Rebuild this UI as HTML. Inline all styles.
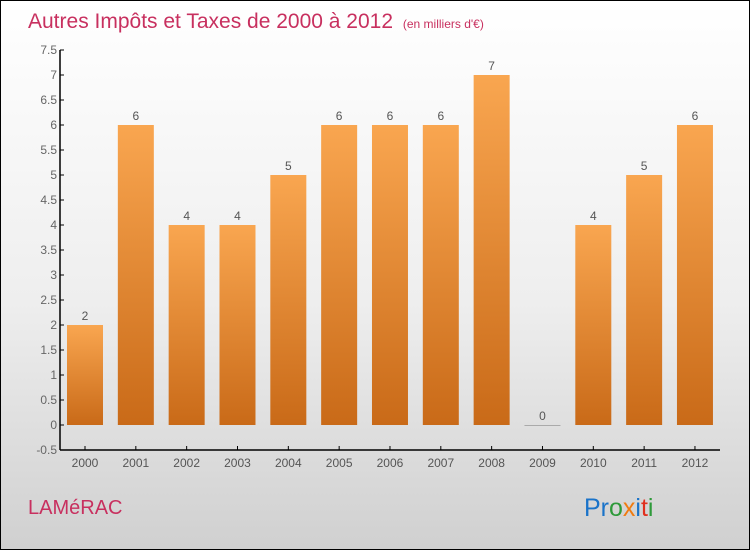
<!DOCTYPE html>
<html><head><meta charset="utf-8"><style>
body{margin:0;padding:0}
#c{width:750px;height:550px;position:relative;box-sizing:border-box;border:1px solid #000;background:linear-gradient(#ffffff 0%,#eeeeee 55%,#d0d0d0 100%);font-family:"Liberation Sans",sans-serif;overflow:hidden}
</style></head><body>
<div id="c">
<svg id="s" width="750" height="550" style="position:absolute;left:-1px;top:-1px">
<defs><linearGradient id="g" x1="0" y1="0" x2="0" y2="1"><stop offset="0" stop-color="#f9a650"/><stop offset="1" stop-color="#c96a18"/></linearGradient></defs>
<text x="28" y="28" font-size="21" fill="#c8305f">Autres Impôts et Taxes de 2000 à 2012 <tspan font-size="12" dx="4">(en milliers d'€)</tspan></text>
<text x="28" y="514" font-size="20" fill="#c8305f">LAMéRAC</text>
<text x="584" y="516" font-size="25"><tspan fill="#1a73c9">Pr</tspan><tspan fill="#2e9a3a">o</tspan><tspan fill="#f07b10">x</tspan><tspan fill="#1a73c9">i</tspan><tspan fill="#e0301e">t</tspan><tspan fill="#2e9a3a">i</tspan></text>
<g id="plot"></g>
</svg>
</div>
<script>
const categories=["2000","2001","2002","2003","2004","2005","2006","2007","2008","2009","2010","2011","2012"];
const values=[2,6,4,4,5,6,6,6,7,0,4,5,6];
const yTicks=[-0.5,0,0.5,1,1.5,2,2.5,3,3.5,4,4.5,5,5.5,6,6.5,7,7.5];
const yTickLabels=["-0.5","0","0.5","1","1.5","2","2.5","3","3.5","4","4.5","5","5.5","6","6.5","7","7.5"];
const NS="http://www.w3.org/2000/svg";
const g=document.getElementById('plot');
const y=v=>425-v*50;
const x=i=>85+i*50.83;
function el(t,a){const e=document.createElementNS(NS,t);for(const k in a)e.setAttribute(k,a[k]);g.appendChild(e);return e;}
let ax=el('line',{x1:60,y1:50,x2:60,y2:450,stroke:'#000','stroke-width':1.5});


let bx=el('line',{x1:60,y1:450,x2:720,y2:450,stroke:'#000','stroke-width':1.5});


yTicks.forEach((v,i)=>{
 const t=el('line',{x1:60,y1:y(v),x2:64,y2:y(v),stroke:'#000'});
 
 
 const l=el('text',{x:57,y:y(v)+4,'text-anchor':'end','font-size':12,fill:'#666'});
 l.textContent=yTickLabels[i];
 
 
});
categories.forEach((c,i)=>{
 const v=values[i],cx=x(i);
 const top=Math.min(y(v),y(0)),h=Math.max(Math.abs(y(v)-y(0)),1);
 const r=el('rect',{x:cx-18,y:top,width:36,height:h,fill:v===0?'#aaa':'url(#g)'});
 
 
 const vl=el('text',{x:cx,y:top-5,'text-anchor':'middle','font-size':12,fill:'#555'});
 vl.textContent=String(v);
 
 
 const tk=el('line',{x1:cx,y1:446,x2:cx,y2:450,stroke:'#000'});
 
 
 const xl=el('text',{x:cx,y:467,'text-anchor':'middle','font-size':12,fill:'#555'});
 xl.textContent=c;
 
 
});
</script>
</body></html>
